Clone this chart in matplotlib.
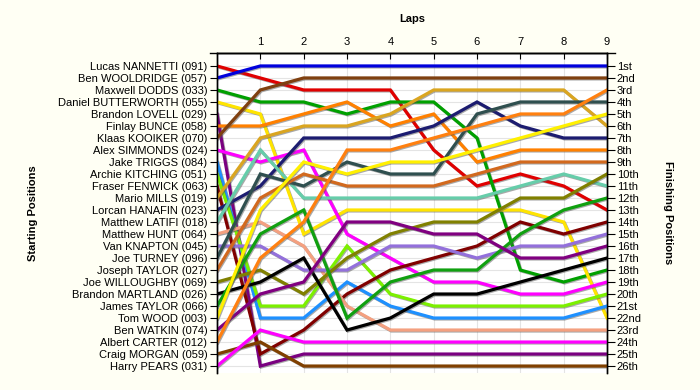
import matplotlib
matplotlib.use("Agg")
import matplotlib.pyplot as plt
import matplotlib.patheffects as pe
from matplotlib.lines import Line2D

drivers = [
    "Lucas NANNETTI (091)", "Ben WOOLDRIDGE (057)", "Maxwell DODDS (033)",
    "Daniel BUTTERWORTH (055)", "Brandon LOVELL (029)", "Finlay BUNCE (058)",
    "Klaas KOOIKER (070)", "Alex SIMMONDS (024)", "Jake TRIGGS (084)",
    "Archie KITCHING (051)", "Fraser FENWICK (063)", "Mario MILLS (019)",
    "Lorcan HANAFIN (023)", "Matthew LATIFI (018)", "Matthew HUNT (064)",
    "Van KNAPTON (045)", "Joe TURNEY (096)", "Joseph TAYLOR (027)",
    "Joe WILLOUGHBY (069)", "Brandon MARTLAND (026)", "James TAYLOR (066)",
    "Tom WOOD (003)", "Ben WATKIN (074)", "Albert CARTER (012)",
    "Craig MORGAN (059)", "Harry PEARS (031)",
]

laps = [0, 1, 2, 3, 4, 5, 6, 7, 8, 9]

positions = [
    [1, 2, 3, 3, 3, 8, 11, 10, 11, 13],
    [2, 1, 1, 1, 1, 1, 1, 1, 1, 1],
    [3, 4, 4, 5, 4, 4, 7, 18, 19, 18],
    [4, 5, 15, 13, 13, 13, 13, 13, 14, 22],
    [5, 26, 25, 25, 25, 25, 25, 25, 25, 25],
    [6, 6, 5, 4, 6, 5, 9, 8, 8, 8],
    [7, 3, 2, 2, 2, 2, 2, 2, 2, 2],
    [8, 9, 8, 15, 17, 19, 19, 20, 20, 19],
    [9, 22, 22, 19, 21, 22, 22, 22, 22, 21],
    [10, 21, 21, 16, 20, 21, 21, 21, 21, 20],
    [11, 25, 23, 20, 18, 17, 16, 14, 15, 14],
    [12, 7, 6, 6, 5, 3, 3, 3, 3, 6],
    [13, 11, 7, 7, 7, 6, 4, 6, 7, 7],
    [14, 8, 12, 12, 12, 12, 12, 11, 10, 11],
    [15, 14, 16, 21, 23, 23, 23, 23, 23, 23],
    [16, 16, 18, 18, 16, 16, 17, 16, 16, 15],
    [17, 10, 11, 9, 10, 10, 5, 4, 4, 4],
    [18, 12, 10, 11, 11, 11, 10, 9, 9, 9],
    [19, 18, 20, 17, 15, 14, 14, 12, 12, 10],
    [20, 19, 17, 23, 22, 20, 20, 19, 18, 17],
    [21, 15, 13, 22, 19, 18, 18, 15, 13, 12],
    [22, 13, 9, 10, 9, 9, 8, 7, 6, 5],
    [23, 20, 19, 14, 14, 15, 15, 17, 17, 16],
    [24, 17, 14, 8, 8, 7, 6, 5, 5, 3],
    [25, 24, 26, 26, 26, 26, 26, 26, 26, 26],
    [26, 23, 24, 24, 24, 24, 24, 24, 24, 24],
]

colors = [
    "#e00000", "#0000dd", "#00a000", "#ffe400", "#7a0080", "#ff8000",
    "#7f4010", "#ff00ff", "#1e90ff", "#7cf000", "#800000", "#daa520",
    "#1c1c70", "#66cdaa", "#f4a080", "#9370db", "#2f4f4f", "#d2691e",
    "#808000", "#000000", "#10a010", "#fff000", "#800080", "#ff8010",
    "#804000", "#ff00ff",
]

finish_labels = ["1st", "2nd", "3rd", "4th", "5th", "6th", "7th", "8th", "9th",
                 "10th", "11th", "12th", "13th", "14th", "15th", "16th", "17th",
                 "18th", "19th", "20th", "21st", "22nd", "23rd", "24th", "25th",
                 "26th"]

plt.rcParams['font.family'] = ['Liberation Sans', 'DejaVu Sans']

fig = plt.figure(figsize=(7.0, 3.9), dpi=100, facecolor="#fffff4")
ax = fig.add_axes([217/700, 17/390, 390/700, 320/390])
ax.set_facecolor("white")

n = len(drivers)
ax.set_xlim(0, 9)
ax.set_ylim(26.58, -0.08)

# grid
for p in range(1, n + 1):
    ax.axhline(p, color="#e4e4e4", lw=0.8, zorder=0)
for l in laps[1:-1]:
    ax.axvline(l, color="#e4e4e4", lw=0.8, zorder=0)

for pos, c in zip(positions, colors):
    ax.plot(laps, pos, color=c, lw=2.3, solid_joinstyle="miter", zorder=3,
            path_effects=[pe.SimpleLineShadow(offset=(0.7, -0.7), shadow_color="#555555", alpha=0.5),
                          pe.Normal()])

ax.xaxis.tick_top()
ax.set_xticks(laps[1:])
ax.set_xticklabels([str(l) for l in laps[1:]], fontsize=8)
ax.tick_params(axis="x", direction="in", length=4, pad=4, color="black")
ax.set_xlabel("Laps", fontsize=8, fontweight="bold", labelpad=11)
ax.xaxis.set_label_position("top")

ax.set_yticks(range(1, n + 1))
ax.set_yticklabels(drivers, fontsize=8)
ax.tick_params(axis="y", direction="out", length=5, pad=2, width=0.8)
ax.set_ylabel("Starting Positions", fontsize=8, fontweight="bold", labelpad=0)
ax.yaxis.set_label_coords(-0.458, 0.5)

ax2 = ax.twinx()
ax2.set_ylim(ax.get_ylim())
ax2.set_yticks(range(1, n + 1))
ax2.set_yticklabels(finish_labels, fontsize=8)
ax2.tick_params(axis="y", direction="out", length=6, pad=1, width=0.8)
ax2.set_ylabel("Finishing Positions", fontsize=8, fontweight="bold", rotation=-90)
ax2.yaxis.set_label_coords(1.17, 0.5)

for a in (ax, ax2):
    a.spines["bottom"].set_visible(False)
    for s in ("left", "right", "top"):
        a.spines[s].set_linewidth(1.0)

# extended top axis line
ax.add_line(Line2D([-0.018, 1.02], [1, 1], transform=ax.transAxes, color="black",
                   lw=1.0, clip_on=False, zorder=5))

fig.savefig("out.png", dpi=100, facecolor=fig.get_facecolor())
